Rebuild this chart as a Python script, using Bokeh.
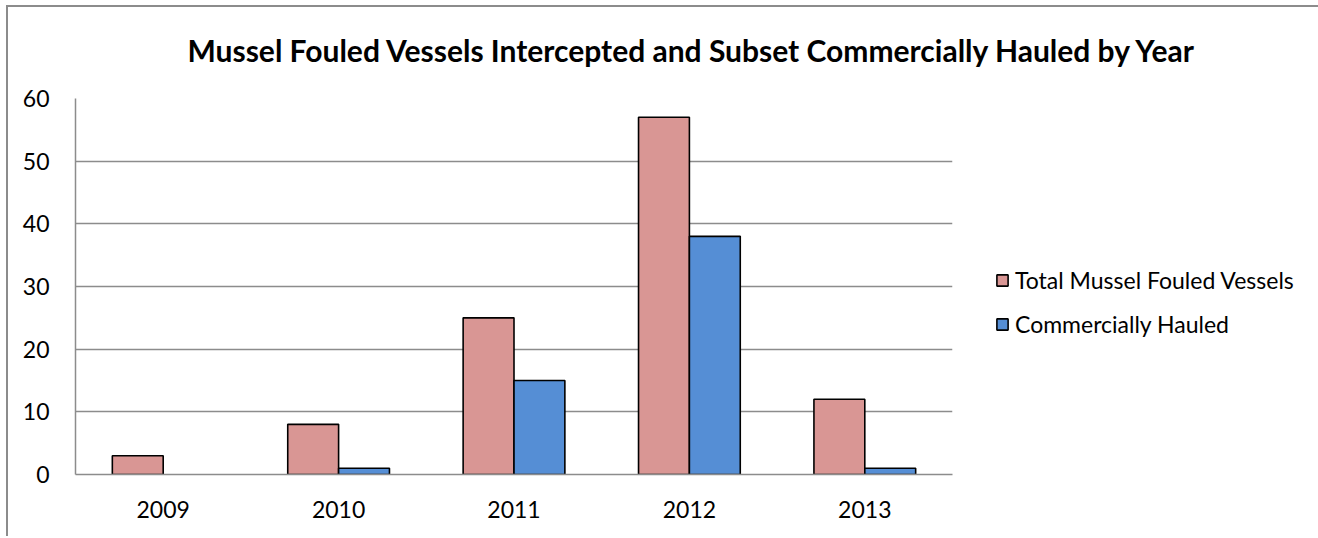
from bokeh.plotting import figure
from bokeh.models import (ColumnDataSource, FactorRange, Range1d, Legend, LegendItem, Title)
from bokeh.transform import dodge
from bokeh.embed import file_html
from bokeh.resources import INLINE

years = ["2009", "2010", "2011", "2012", "2013"]
total_fouled = [3, 8, 25, 57, 12]
commercially_hauled = [0, 1, 15, 38, 1]
series_names = ["Total Mussel Fouled Vessels", "Commercially Hauled"]
title_text = "Mussel Fouled Vessels Intercepted and Subset Commercially Hauled by Year"
y_ticks = [0, 10, 20, 30, 40, 50, 60]

PINK = "#D99694"
BLUE = "#558ED5"
GRID = "#8c8c8c"
FONT = "Lato"

source = ColumnDataSource(data=dict(
    year=years,
    total=total_fouled,
    hauled=commercially_hauled,
    hauled_line=["black" if v > 0 else None for v in commercially_hauled],
))

p = figure(frame_width=877, frame_height=376, x_range=FactorRange(*years), y_range=Range1d(0, 60),
           output_backend="svg", toolbar_location=None,
           min_border_left=67, min_border_right=346, min_border_top=91, min_border_bottom=62,
           styles={"margin-left": "6px", "margin-top": "5px",
                   "border-left": "2px solid #8c8c8c", "border-top": "2px solid #8c8c8c"})

r1 = p.vbar(x=dodge("year", -0.145, range=p.x_range), top="total", width=0.29, source=source,
            fill_color=PINK, line_color="black", line_width=1.6)
r2 = p.vbar(x=dodge("year", 0.145, range=p.x_range), top="hauled", width=0.29, source=source,
            fill_color=BLUE, line_color="hauled_line", line_width=1.6)

p.outline_line_color = None
p.xgrid.grid_line_color = None
p.ygrid.grid_line_color = GRID
p.ygrid.grid_line_width = 1.5
p.yaxis.ticker = y_ticks

for ax in (p.xaxis, p.yaxis):
    ax.axis_line_color = GRID
    ax.axis_line_width = 1.5
    ax.major_tick_line_color = None
    ax.minor_tick_line_color = None
    ax.major_label_text_font = FONT
    ax.major_label_text_font_size = "23px"
    ax.major_label_text_color = "black"
p.yaxis.major_label_standoff = 20
p.xaxis.major_label_standoff = 20

p.title.text = title_text
p.title.text_font = FONT
p.title.text_font_style = "bold"
p.title.text_font_size = "30px"
p.title.text_color = "black"
p.title.align = "left"
p.title.offset = 112
p.title.standoff = 44

# empty spacer panel between the title and the plot area
spacer = Title(text=" ", text_font_size="2px", standoff=5)
p.add_layout(spacer, "above")

legend = Legend(items=[LegendItem(label=series_names[0], renderers=[r1], index=1),
                       LegendItem(label=series_names[1], renderers=[r2], index=1)],
                location=(43, 136), orientation="vertical")
legend.border_line_color = None
legend.background_fill_alpha = 0
legend.margin = 0
legend.padding = 0
legend.glyph_width = 14
legend.glyph_height = 14
legend.label_height = 24
legend.spacing = 16
legend.label_standoff = 6
legend.label_text_font = FONT
legend.label_text_font_size = "23px"
legend.label_text_color = "black"
p.add_layout(legend, "right")

open("out.html", "w").write(file_html(p, INLINE))
